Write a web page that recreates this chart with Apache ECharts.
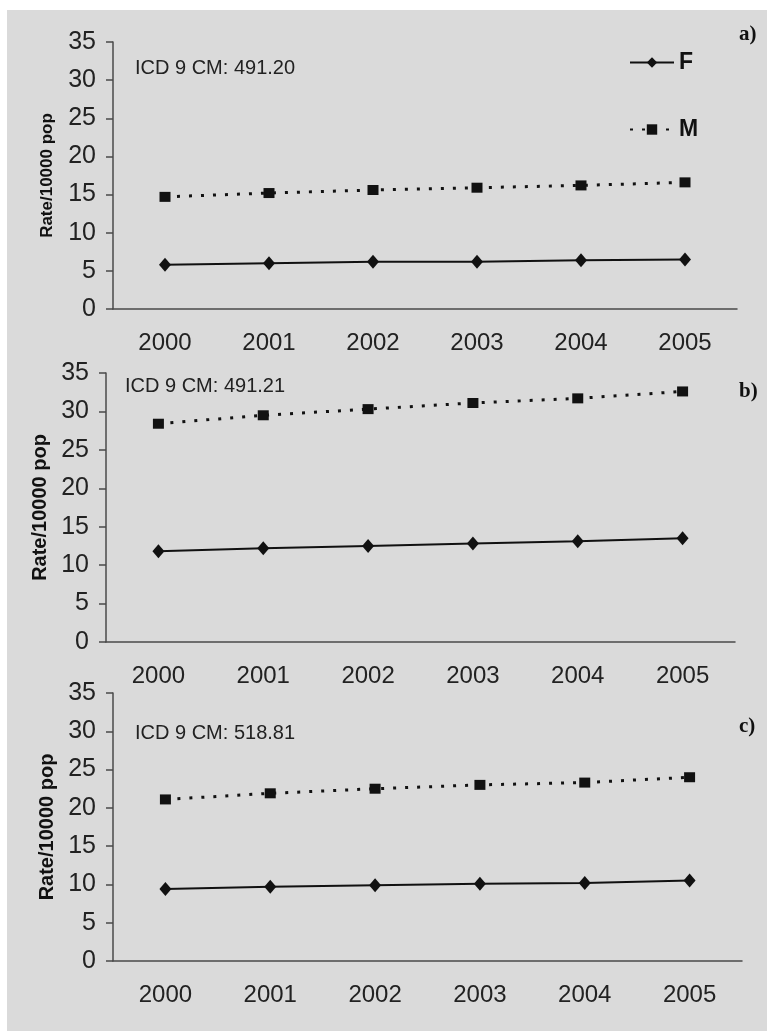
<!DOCTYPE html>
<html>
<head>
<meta charset="utf-8">
<script src="https://cdn.jsdelivr.net/npm/echarts@6/dist/echarts.min.js"></script>
<style>
  html, body { margin: 0; padding: 0; background: #fff; }
  .paper { position: absolute; left: 7px; top: 10px; width: 760px; height: 1021px; background: #dadada; }
  #chart { position: absolute; left: 0; top: 0; width: 767px; height: 1031px; }
</style>
</head>
<body>
<div class="paper"></div>
<div id="chart"></div>
<script>
  // data
  var years = ['2000', '2001', '2002', '2003', '2004', '2005'];
  var codes = ['ICD 9 CM: 491.20', 'ICD 9 CM: 491.21', 'ICD 9 CM: 518.81'];
  var panelTags = ['a)', 'b)', 'c)'];

  var femaleA = [5.8, 6.0, 6.2, 6.2, 6.4, 6.5];
  var maleA = [14.7, 15.2, 15.6, 15.9, 16.2, 16.6];
  var femaleB = [11.8, 12.2, 12.5, 12.8, 13.1, 13.5];
  var maleB = [28.4, 29.5, 30.3, 31.1, 31.7, 32.6];
  var femaleC = [9.4, 9.7, 9.9, 10.1, 10.2, 10.5];
  var maleC = [21.1, 21.9, 22.5, 23.0, 23.3, 24.0];

  var female = [femaleA, femaleB, femaleC];
  var male = [maleA, maleB, maleC];

  var font = '"Liberation Sans", Arial, sans-serif';
  var axisColor = '#4a4a4a';

  // grid placement for each panel
  var grids = [
    { left: 113, right: 30, top: 42, height: 267 },
    { left: 106, right: 32, top: 373, height: 269 },
    { left: 113, right: 25, top: 693, height: 268 }
  ];
  var nameSize = [17, 20, 20];
  var nameGap = [57, 46, 50];

  var xAxes = [], yAxes = [], series = [], titles = [];
  grids.forEach(function (g, i) {
    xAxes.push({
      type: 'category', gridIndex: i, data: years, boundaryGap: true,
      axisLine: { lineStyle: { color: axisColor, width: 1.5 } },
      axisTick: { length: 7, lineStyle: { color: axisColor, width: 1.5 } },
      axisLabel: { color: '#222', fontSize: 24, fontFamily: font, margin: 22 }
    });
    yAxes.push({
      type: 'value', gridIndex: i, min: 0, max: 35, interval: 5,
      name: 'Rate/10000 pop', nameLocation: 'middle', nameRotate: 90, nameGap: nameGap[i],
      nameTextStyle: { color: '#111', fontSize: nameSize[i], fontWeight: 'bold', fontFamily: font },
      splitLine: { show: false },
      axisLine: { show: true, lineStyle: { color: axisColor, width: 1.5 } },
      axisTick: { show: true, length: 7, lineStyle: { color: axisColor, width: 1.5 } },
      axisLabel: { color: '#222', fontSize: 25, fontFamily: font, margin: 17 }
    });
    series.push({
      name: 'F', type: 'line', xAxisIndex: i, yAxisIndex: i, data: female[i],
      symbol: 'diamond', symbolSize: [12, 14],
      itemStyle: { color: '#111' },
      lineStyle: { color: '#111', width: 2 }
    });
    series.push({
      name: 'M', type: 'line', xAxisIndex: i, yAxisIndex: i, data: male[i],
      symbol: 'rect', symbolSize: [11, 10],
      itemStyle: { color: '#111' },
      lineStyle: { color: '#111', width: 3, type: [3, 9] }
    });
  });

  var codeTops = [58, 376, 723];
  var codeLefts = [135, 125, 135];
  var tagTops = [24, 381, 716];
  codes.forEach(function (c, i) {
    titles.push({
      text: c, left: codeLefts[i], top: codeTops[i], padding: 0,
      textStyle: { color: '#222', fontSize: 20, fontWeight: 'normal', fontFamily: font }
    });
    titles.push({
      text: panelTags[i], left: 739, top: tagTops[i], padding: 0,
      textStyle: { color: '#111', fontSize: 21, fontWeight: 'bold', fontFamily: '"Liberation Serif", "Times New Roman", serif' }
    });
  });

  var chart = echarts.init(document.getElementById('chart'));
  chart.setOption({
    backgroundColor: 'transparent',
    animation: false,
    title: titles,
    legend: {
      data: ['F', 'M'], orient: 'vertical', left: 629, top: 51, padding: 0,
      itemWidth: 44, itemHeight: 13, itemGap: 44,
      textStyle: { color: '#111', fontSize: 23, fontWeight: 'bold', fontFamily: font, lineHeight: 13 }
    },
    grid: grids,
    xAxis: xAxes,
    yAxis: yAxes,
    series: series
  });
</script>
</body>
</html>
